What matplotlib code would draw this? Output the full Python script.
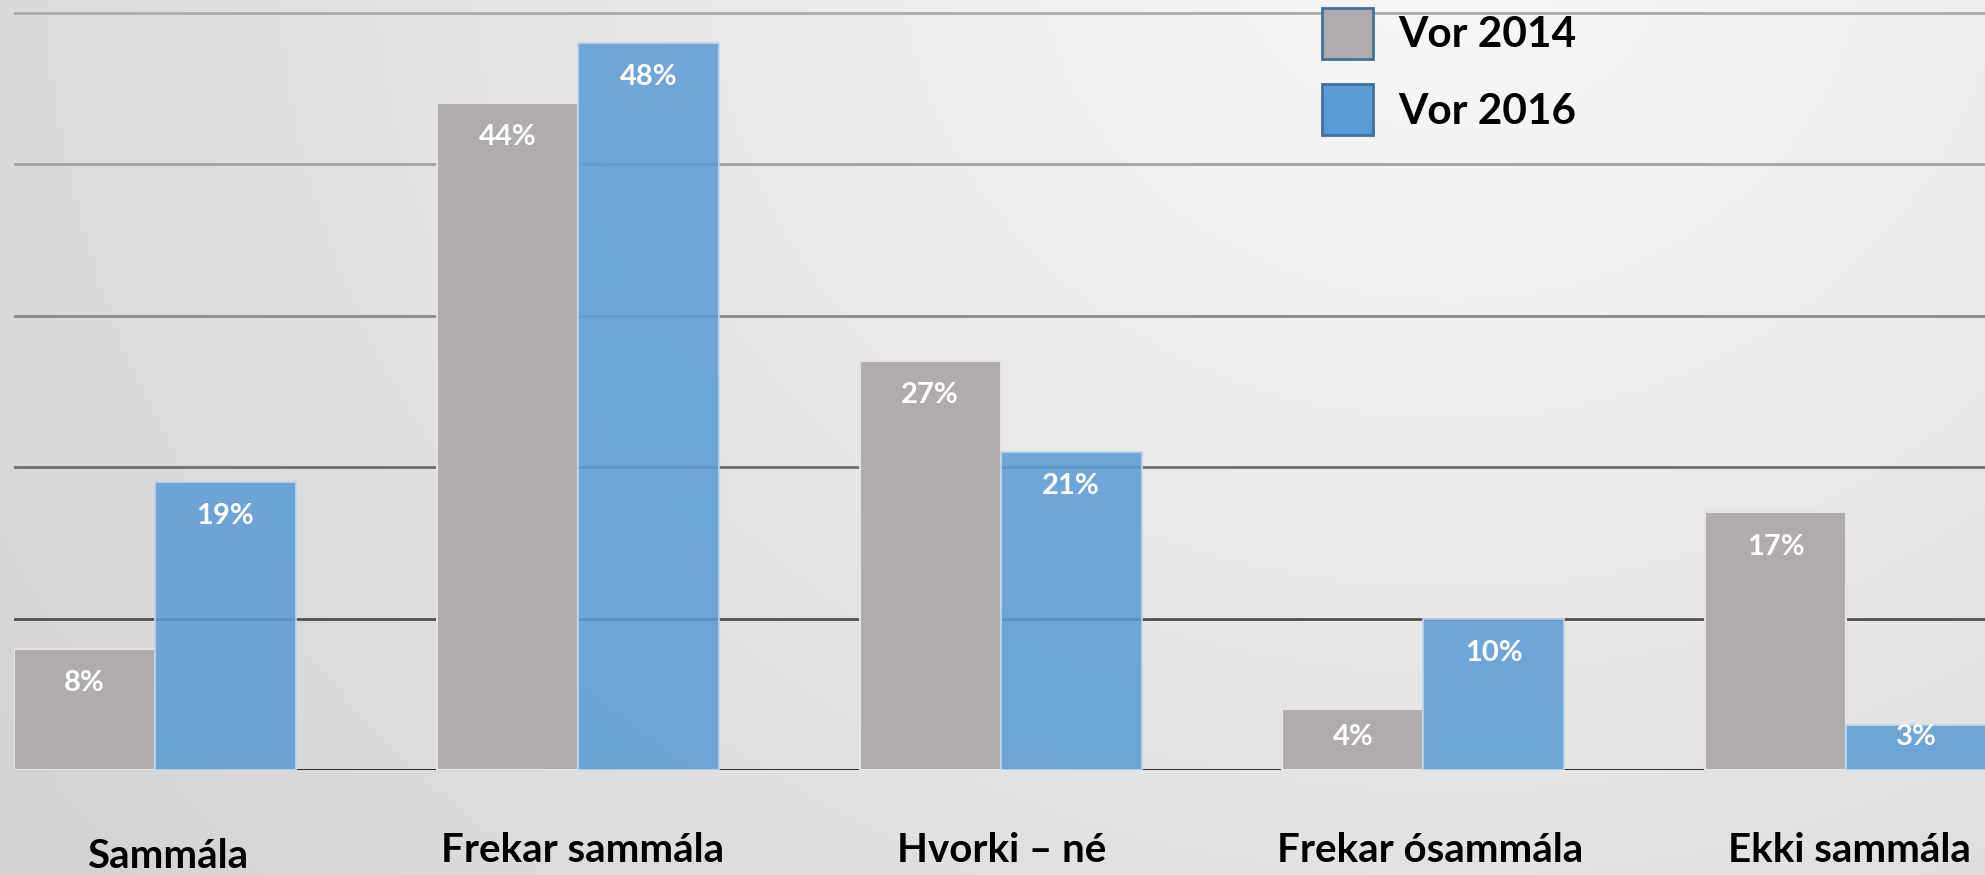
import numpy as np
import matplotlib

matplotlib.use("Agg")
import matplotlib.pyplot as plt
from matplotlib.patches import Patch

categories = ["Sammála", "Frekar sammála", "Hvorki – né", "Frekar ósammála", "Ekki sammála"]
series_names = ["Vor 2014", "Vor 2016"]
vor_2014 = [8, 44, 27, 4, 17]
vor_2016 = [19, 48, 21, 10, 3]
y_ticks = [0, 10, 20, 30, 40, 50]

plt.rcParams["font.family"] = ["Lato", "DejaVu Sans"]
plt.rcParams["font.weight"] = "bold"

W, H, DPI = 1985, 875, 100
fig = plt.figure(figsize=(W / DPI, H / DPI), dpi=DPI)

# soft radial grey background, lightest near the top right
bg = fig.add_axes([0, 0, 1, 1], zorder=-10)
yy, xx = np.mgrid[0:H, 0:W]
r = np.hypot(xx - 1450, (yy + 60) * 1.15) / 1700.0
r = np.clip(r, 0, 1)
shade = 0.975 - 0.14 * r
bg.imshow(np.dstack([shade] * 3), extent=(0, W, H, 0), aspect="auto")
bg.axis("off")

px_unit = 422.75
ax = fig.add_axes([14 / W, 105 / H, 1 - 14 / W, 770 / H])
ax.patch.set_alpha(0)
ax.set_xlim((14 - 155) / px_unit, (W - 155) / px_unit)
ax.set_ylim(0, 770 / 15.15)

grid_colors = ["#1c1c1c", "#505050", "#6e6e6e", "#8a8a8a", "#a2a2a2", "#ababab"]
for t, c in zip(y_ticks, grid_colors):
    ax.axhline(t, color=c, lw=2.0, zorder=1)

x = np.arange(len(categories))
w = 141 / px_unit
b1 = ax.bar(x - w / 2, vor_2014, w, color="#afacab", edgecolor="#e4e4e4", lw=1.5, zorder=2)
b2 = ax.bar(x + w / 2, vor_2016, w, color="#5b9bd5", alpha=0.86, edgecolor="#bcd6ee", lw=1.5, zorder=3)

for bars, vals in ((b1, vor_2014), (b2, vor_2016)):
    for rect, v in zip(bars, vals):
        cx = rect.get_x() + rect.get_width() / 2
        ax.text(cx, max(v - 2.25, 2.2), f"{v}%", ha="center", va="center",
                color="white", fontsize=21, fontweight="bold", zorder=5)

# category names under the groups (first one sits a bit lower/right in the original)
label_dx = [13, 5, 1, 7, 3]
label_dy = [-98, -92, -92, -92, -92]
for i, name in enumerate(categories):
    ax.annotate(name, xy=(i, 0), xycoords=("data", "axes fraction"),
                xytext=(label_dx[i] * 72 / DPI, label_dy[i] * 72 / DPI),
                textcoords="offset points",
                ha="center", va="baseline", fontsize=29, fontweight="bold",
                color="black", annotation_clip=False)

ax.set_xticks([])
ax.set_yticks([])
for s in ax.spines.values():
    s.set_visible(False)

handles = [
    Patch(facecolor="#afabab", edgecolor="#41719c", lw=2, label=series_names[0]),
    Patch(facecolor="#5b9bd5", edgecolor="#41719c", lw=2, label=series_names[1]),
]
leg = fig.legend(handles=handles, loc="upper left",
                 bbox_to_anchor=(1322 / W, 1 - 8 / H), frameon=False,
                 fontsize=30.5, handlelength=1.2, handleheight=1.47,
                 handletextpad=0.6, labelspacing=0.6, borderpad=0, borderaxespad=0)
for t in leg.get_texts():
    t.set_fontweight("bold")
leg.set_zorder(10)

fig.savefig("out.png", dpi=DPI)
